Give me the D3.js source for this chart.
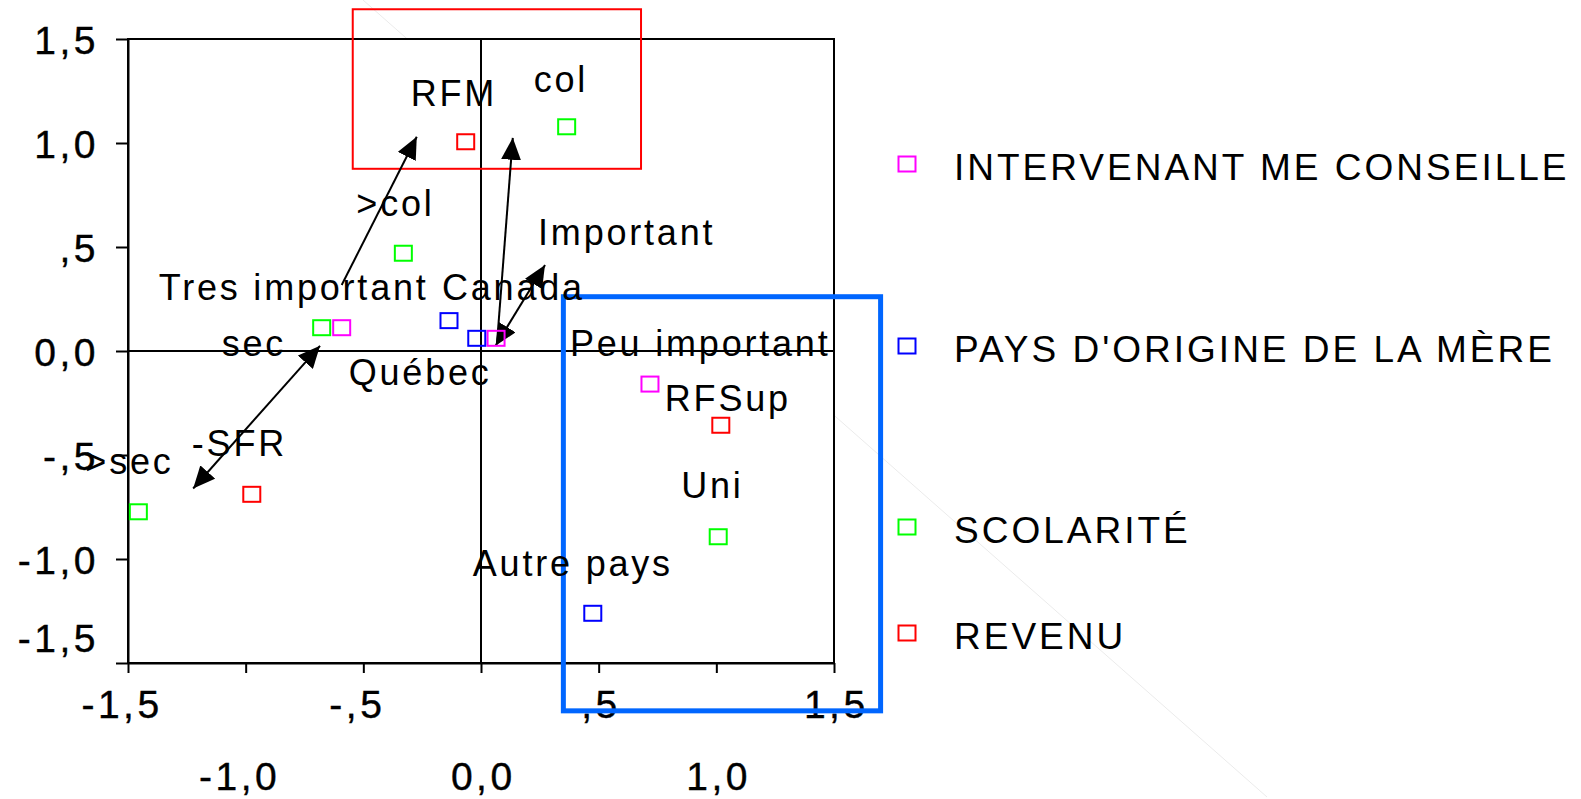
<!DOCTYPE html>
<html>
<head>
<meta charset="utf-8">
<script src="https://cdn.jsdelivr.net/npm/d3@7"></script>
<style>
body{margin:0;background:#fff;}
text{font-family:"Liberation Sans",Arial,sans-serif;fill:#000;}
</style>
</head>
<body>
<div id="chart"></div>
<script>
// categories / series
let seriesNames=["INTERVENANT ME CONSEILLE","PAYS D'ORIGINE DE LA MÈRE","SCOLARITÉ","REVENU"];
let seriesColors=["#ff00ff","#0000ff","#00ff00","#ff0000"];

// dimension 1 (x) / dimension 2 (y) coordinates of each category
let intervenantLabels=["Tres important","Important","Peu important"];
let intervenantX=[-0.592,0.064,0.718];
let intervenantY=[0.112,0.061,-0.159];

let paysLabels=["Canada","Québec","Autre pays"];
let paysX=[-0.136,-0.018,0.475];
let paysY=[0.146,0.061,-1.261];

let scolariteLabels=["col",">col","sec",">sec","Uni"];
let scolariteX=[0.364,-0.330,-0.677,-1.456,1.008];
let scolariteY=[1.078,0.470,0.112,-0.773,-0.893];

let revenuLabels=["RFM","-SFR","RFSup"];
let revenuX=[-0.065,-0.974,1.019];
let revenuY=[1.006,-0.689,-0.357];

// tick labels
let tickValues=[-1.5,-1,-0.5,0,0.5,1,1.5];
let tickLabels=["-1,5","-1,0","-,5","0,0",",5","1,0","1,5"];

let width=1581, height=799;
let tickSpacing=3.5;

let chart=d3.select("#chart")
.append("svg")
.attr("width",width)
.attr("height",height);

let xscale=d3.scaleLinear().domain([-1.5,1.5]).range([128,834]);
let yscale=d3.scaleLinear().domain([-1.5,1.5]).range([663,39]);

// faint stray line behind the plot
chart.append("line")
.attr("x1",363).attr("y1",0).attr("x2",1267).attr("y2",797)
.attr("stroke","#ebebeb").attr("stroke-width",1);

// plot background + frame
chart.append("rect")
.attr("x",xscale(-1.5)).attr("y",yscale(1.5))
.attr("width",xscale(1.5)-xscale(-1.5)).attr("height",yscale(-1.5)-yscale(1.5))
.attr("fill","#fff").attr("stroke","#000").attr("stroke-width",2);

// zero lines
chart.append("line")
.attr("x1",xscale(-1.5)).attr("x2",xscale(1.5))
.attr("y1",yscale(0)).attr("y2",yscale(0))
.attr("stroke","#000").attr("stroke-width",2);
chart.append("line")
.attr("x1",xscale(0)).attr("x2",xscale(0))
.attr("y1",yscale(1.5)).attr("y2",yscale(-1.5))
.attr("stroke","#000").attr("stroke-width",2);

// axes
let fmt=function(d){return tickLabels[tickValues.indexOf(d)];};
let yAxis=d3.axisLeft(yscale).tickValues(tickValues).tickFormat(fmt).tickSize(12).tickSizeOuter(0).tickPadding(17);
let xAxis=d3.axisBottom(xscale).tickValues(tickValues).tickFormat(fmt).tickSize(10).tickSizeOuter(0);

let gy=chart.append("g")
.attr("class","yaxis")
.attr("transform","translate("+xscale(-1.5)+",0)")
.call(yAxis);

let gx=chart.append("g")
.attr("class","xaxis")
.attr("transform","translate(0,"+yscale(-1.5)+")")
.call(xAxis);

chart.selectAll(".yaxis path,.xaxis path,.yaxis line,.xaxis line")
.attr("stroke","#000").attr("stroke-width",2);

chart.selectAll(".yaxis text,.xaxis text")
.attr("font-size",39).attr("letter-spacing",tickSpacing+"px")
.attr("font-family","'Liberation Sans',Arial,sans-serif")
.attr("fill","#000").attr("stroke","#000").attr("stroke-width",0.4);

gy.selectAll("text")
.attr("dy",14)
.attr("y",function(d){return d===-1.5?-26:0;});

gx.selectAll("text")
.attr("text-anchor","start")
.attr("dy",0)
.attr("y",function(d,i){return i%2===0?55:127;})
.each(function(d){
  // centre the number on the tick, minus sign hangs to the left
  let t=d3.select(this);
  let full=this.getComputedTextLength();
  let s=t.text();
  t.text(s.replace("-",""));
  let w=this.getComputedTextLength();
  t.text(s);
  t.attr("x",-(w-tickSpacing)/2-(full-w));
});

// boxes (drawn in data units)
chart.append("rect")
.attr("x",xscale(-0.545)).attr("y",yscale(1.643))
.attr("width",xscale(0.680)-xscale(-0.545))
.attr("height",yscale(0.876)-yscale(1.643))
.attr("fill","none").attr("stroke","#ff0000").attr("stroke-width",2);

chart.append("rect")
.attr("x",xscale(0.350)).attr("y",yscale(0.261))
.attr("width",xscale(1.698)-xscale(0.350))
.attr("height",yscale(-1.730)-yscale(0.261))
.attr("fill","none").attr("stroke","#0066ff").attr("stroke-width",5);

// arrows
let defs=chart.append("defs");
defs.append("marker")
.attr("id","head")
.attr("viewBox","0 0 22 20")
.attr("refX",22).attr("refY",10)
.attr("markerWidth",22).attr("markerHeight",20)
.attr("markerUnits","userSpaceOnUse")
.attr("orient","auto-start-reverse")
.append("path").attr("d","M0,0L22,10L0,20Z").attr("fill","#000");

let arrows=[
  {x1:-0.592,y1:0.317,x2:-0.273,y2:1.030,both:false},
  {x1:0.068,y1:0.037,x2:0.135,y2:1.025,both:false},
  {x1:0.062,y1:0.025,x2:0.272,y2:0.413,both:true},
  {x1:-0.684,y1:0.025,x2:-1.223,y2:-0.661,both:true}
];
chart.selectAll("line.arrow")
.data(arrows)
.enter()
.append("line")
.attr("class","arrow")
.attr("x1",function(d){return xscale(d.x1);})
.attr("y1",function(d){return yscale(d.y1);})
.attr("x2",function(d){return xscale(d.x2);})
.attr("y2",function(d){return yscale(d.y2);})
.attr("stroke","#000").attr("stroke-width",2)
.attr("marker-end","url(#head)")
.attr("marker-start",function(d){return d.both?"url(#head)":null;});

// points
let groups=[
  {x:intervenantX,y:intervenantY,labels:intervenantLabels},
  {x:paysX,y:paysY,labels:paysLabels},
  {x:scolariteX,y:scolariteY,labels:scolariteLabels},
  {x:revenuX,y:revenuY,labels:revenuLabels}
];
// label offsets from the marker centre, in pixels
let labelOffsets=[
  [[-183,-28],[42,-93],[-80,-28]],
  [[-7,-21],[-128,47],[-120,-37]],
  [[-33,-35],[-47,-37],[-100,28],[-53,-38],[-37,-39]],
  [[-55,-36],[-60,-38],[-56,-14]]
];

let points=[];
groups.forEach(function(g,si){
  g.x.forEach(function(v,i){
    points.push({s:si,x:v,y:g.y[i],label:g.labels[i],off:labelOffsets[si][i]});
  });
});

chart.selectAll("text.lbl")
.data(points)
.enter()
.append("text")
.attr("class","lbl")
.attr("x",function(d){return xscale(d.x)+d.off[0];})
.attr("y",function(d){return yscale(d.y)+d.off[1];})
.attr("font-size",36)
.attr("letter-spacing","2.8px")
.text(function(d){return d.label;});

chart.selectAll("rect.pt")
.data(points)
.enter()
.append("rect")
.attr("class","pt")
.attr("x",function(d){return xscale(d.x)-8.5;})
.attr("y",function(d){return yscale(d.y)-7.5;})
.attr("width",17).attr("height",15)
.attr("fill","none")
.attr("stroke",function(d){return seriesColors[d.s];})
.attr("stroke-width",2);

// legend
let legendY=[164,346,527,633];
let legend=chart.selectAll("g.leg")
.data(seriesNames)
.enter()
.append("g")
.attr("class","leg")
.attr("transform",function(d,i){return "translate(907,"+legendY[i]+")";});
legend.append("rect")
.attr("x",-8.5).attr("y",-7.5).attr("width",17).attr("height",15)
.attr("fill","none").attr("stroke-width",2)
.attr("stroke",function(d,i){return seriesColors[i];});
legend.append("text")
.attr("x",47).attr("y",16)
.attr("font-size",37)
.attr("letter-spacing","3px")
.text(function(d){return d;});
</script>
</body>
</html>
